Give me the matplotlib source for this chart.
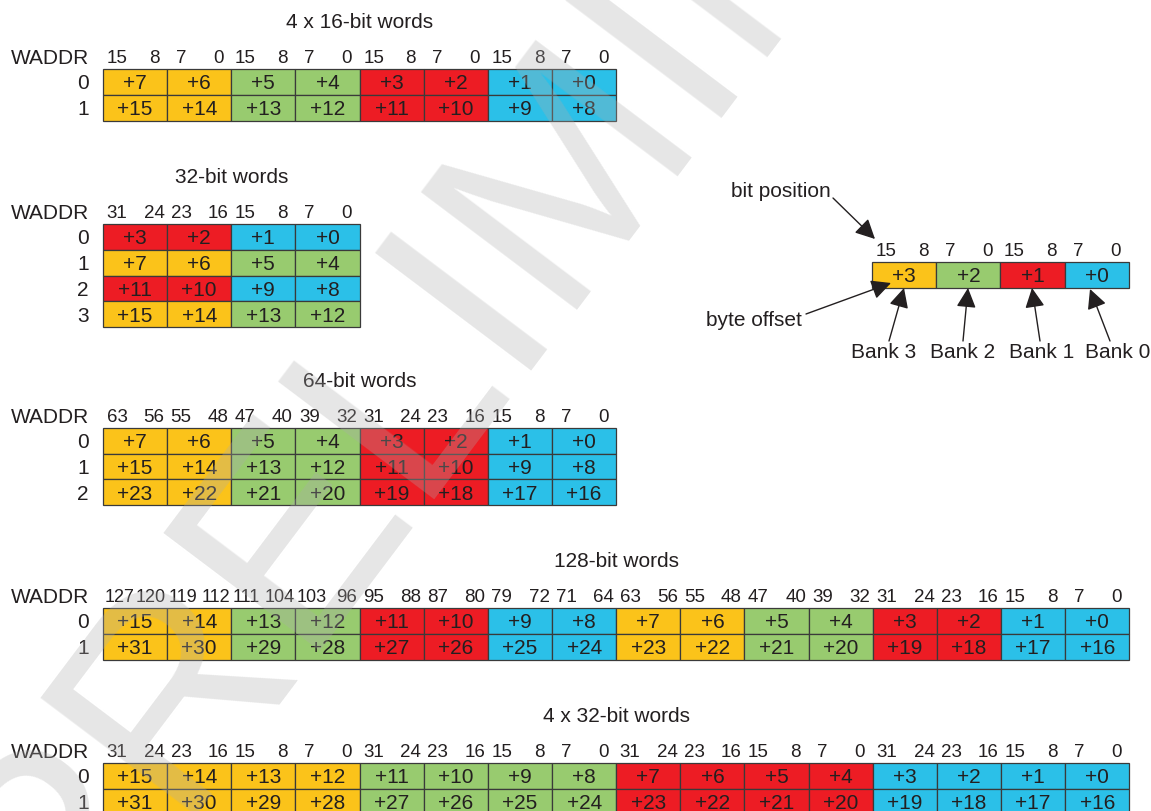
import matplotlib.pyplot as plt

plt.rcParams['font.family'] = ['Liberation Sans', 'DejaVu Sans']

INK = '#231f20'
EDGE = '#3a3a3a'
FILL = {'Y': '#fbc31a', 'G': '#98cb6f', 'R': '#ed1c24', 'B': '#2bc0e8'}

# ---- data -------------------------------------------------------------
w16_title = '4 x 16-bit words'
w16_bits = [(15, 8), (7, 0), (15, 8), (7, 0), (15, 8), (7, 0), (15, 8), (7, 0)]
w16_rows = [[7, 6, 5, 4, 3, 2, 1, 0],
            [15, 14, 13, 12, 11, 10, 9, 8]]
w16_colors = ['YYGGRRBB', 'YYGGRRBB']

w32_title = '32-bit words'
w32_bits = [(31, 24), (23, 16), (15, 8), (7, 0)]
w32_rows = [[3, 2, 1, 0], [7, 6, 5, 4], [11, 10, 9, 8], [15, 14, 13, 12]]
w32_colors = ['RRBB', 'YYGG', 'RRBB', 'YYGG']

w64_title = '64-bit words'
w64_bits = [(63, 56), (55, 48), (47, 40), (39, 32), (31, 24), (23, 16), (15, 8), (7, 0)]
w64_rows = [[7, 6, 5, 4, 3, 2, 1, 0],
            [15, 14, 13, 12, 11, 10, 9, 8],
            [23, 22, 21, 20, 19, 18, 17, 16]]
w64_colors = ['YYGGRRBB'] * 3

w128_title = '128-bit words'
w128_bits = [(127, 120), (119, 112), (111, 104), (103, 96), (95, 88), (87, 80),
             (79, 72), (71, 64), (63, 56), (55, 48), (47, 40), (39, 32),
             (31, 24), (23, 16), (15, 8), (7, 0)]
w128_rows = [[15, 14, 13, 12, 11, 10, 9, 8, 7, 6, 5, 4, 3, 2, 1, 0],
             [31, 30, 29, 28, 27, 26, 25, 24, 23, 22, 21, 20, 19, 18, 17, 16]]
w128_colors = ['YYGGRRBBYYGGRRBB'] * 2

q32_title = '4 x 32-bit words'
q32_bits = [(31, 24), (23, 16), (15, 8), (7, 0)] * 4
q32_rows = [[15, 14, 13, 12, 11, 10, 9, 8, 7, 6, 5, 4, 3, 2, 1, 0],
            [31, 30, 29, 28, 27, 26, 25, 24, 23, 22, 21, 20, 19, 18, 17, 16]]
q32_colors = ['YYYYGGGGRRRRBBBB'] * 2

key_bits = [(15, 8), (7, 0), (15, 8), (7, 0)]
key_offsets = [3, 2, 1, 0]
key_colors = 'YGRB'
key_banks = ['Bank 3', 'Bank 2', 'Bank 1', 'Bank 0']

# ---- drawing ----------------------------------------------------------
fig = plt.figure(figsize=(11.51, 8.11), dpi=100)
ax = fig.add_axes([0, 0, 1, 1])
ax.set_xlim(0, 1151)
ax.set_ylim(811, 0)
ax.axis('off')


def txt(x, yc, s, fs=15, ha='center', **kw):
    # put the cap-height centre of the text on yc
    ax.text(x, yc + 0.358 * fs * 100 / 72, s, fontsize=fs, ha=ha,
            va='baseline', color=INK, **kw)


def header(left, top, cw, bits):
    for i, (hi, lo) in enumerate(bits):
        x0 = left + i * cw
        y = top - 12.5
        if hi > 99:
            txt(x0 + 1.5, y, str(hi), fs=13, ha='left')
        else:
            txt(x0 + 14, y, str(hi), fs=13.5)
        if lo > 99:
            txt(x0 + cw - 1, y, str(lo), fs=13, ha='right')
        else:
            txt(x0 + cw - 13, y, str(lo), fs=13.5)


def cells(left, top, cw, rh, rows, colors):
    for r, (vals, cols) in enumerate(zip(rows, colors)):
        for c, (v, col) in enumerate(zip(vals, cols)):
            x0 = left + c * cw
            y0 = top + r * rh
            ax.add_patch(plt.Rectangle((x0, y0), cw, rh, facecolor=FILL[col],
                                       edgecolor=EDGE, lw=0.9))
            txt(x0 + cw / 2, y0 + rh / 2, '+%d' % v)


def grid(title, bits, rows, colors, top, left=103, cw=64.15, rh=25.9):
    width = cw * len(bits)
    txt(left + width / 2, top - 48.5, title)
    txt(89, top - 12.5, 'WADDR', ha='right')
    header(left, top, cw, bits)
    for r in range(len(rows)):
        txt(89, top + r * rh + rh / 2, str(r), ha='right')
    cells(left, top, cw, rh, rows, colors)


grid(w16_title, w16_bits, w16_rows, w16_colors, 69)
grid(w32_title, w32_bits, w32_rows, w32_colors, 224, rh=25.75)
grid(w64_title, w64_bits, w64_rows, w64_colors, 428, rh=25.7)
grid(w128_title, w128_bits, w128_rows, w128_colors, 608)
grid(q32_title, q32_bits, q32_rows, q32_colors, 763)

# key on the right
k_left, k_top, k_cw, k_rh = 872, 262, 64.25, 25.5
header(k_left, k_top, k_cw, key_bits)
cells(k_left, k_top, k_cw, k_rh, [key_offsets], [key_colors])

txt(731, 190, 'bit position', ha='left')
txt(706, 319, 'byte offset', ha='left')
bank_x = [884, 963, 1042, 1118]
for bx, name in zip(bank_x, key_banks):
    txt(bx, 351, name)

arrow = dict(arrowstyle='-|>,head_length=0.6,head_width=0.3', color=INK,
             lw=1.0, mutation_scale=20, shrinkA=0, shrinkB=0)
ax.annotate('', xy=(875, 239), xytext=(833, 198), arrowprops=arrow)
ax.annotate('', xy=(891, 283), xytext=(806, 314), arrowprops=arrow)
ax.annotate('', xy=(904, 288), xytext=(889, 341), arrowprops=arrow)
ax.annotate('', xy=(968, 288), xytext=(963, 341), arrowprops=arrow)
ax.annotate('', xy=(1032, 288), xytext=(1040, 341), arrowprops=arrow)
ax.annotate('', xy=(1090, 289), xytext=(1110, 341), arrowprops=arrow)

# watermark
ax.text(639, 197, 'PRELIMINARY', fontsize=205, rotation=53,
        rotation_mode='anchor', ha='center', va='baseline',
        color='#acacac', alpha=0.3, zorder=10)

fig.savefig('out.png', dpi=100)
